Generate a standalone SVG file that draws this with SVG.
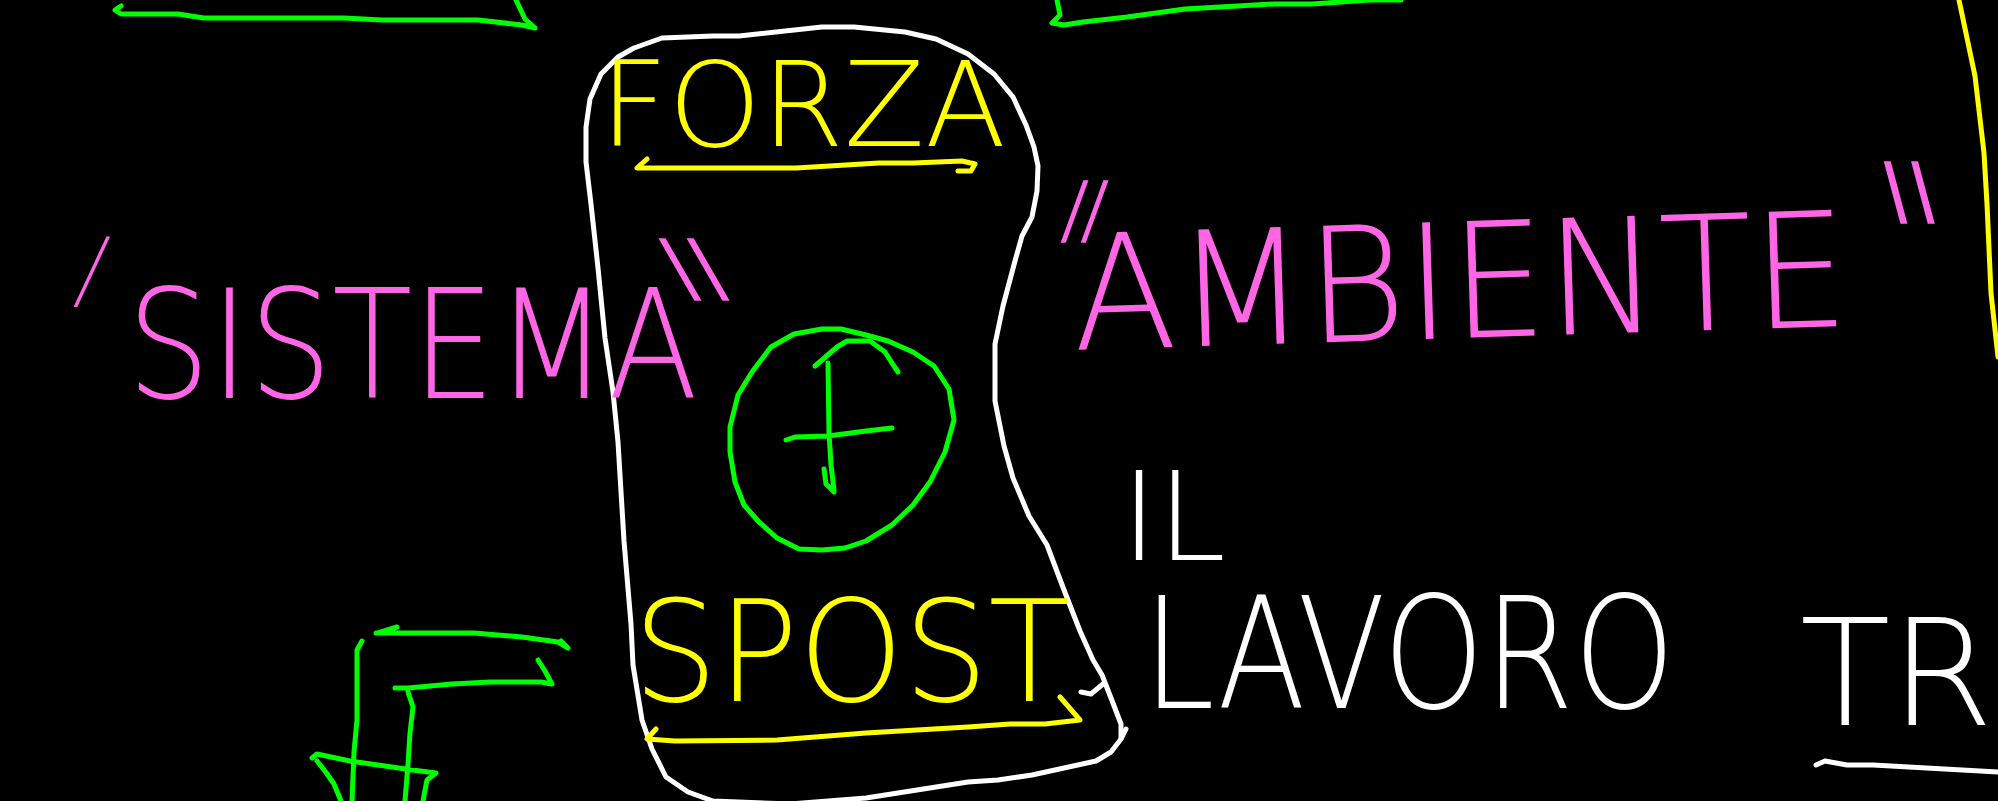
<svg xmlns="http://www.w3.org/2000/svg" width="1998" height="801" viewBox="0 0 1998 801">
<style>
.ln{fill:none;stroke-linecap:round;stroke-linejoin:round;stroke-width:5}
.w{stroke:#ffffff}.y{stroke:#ffff00}.g{stroke:#00ff00}.m{stroke:#ff66e6}
.t{font-family:"DejaVu Sans","Liberation Sans",sans-serif;font-weight:200}
.tw{fill:#ffffff}.ty{fill:#ffff00}.tm{fill:#ff66e6}
</style>
<rect width="1998" height="801" fill="#000000"/>
<g id="connectors">
<path class="ln g" d="M121,6 L115,10 L121,14 L178,14 L204,18 L344,18 L382,20 L478,20 L522,25 L535,28 L525,19 L516,0"/>
<path class="ln g" d="M1057,0 L1060,15 L1052,23 L1064,25 L1083,22 L1127,17 L1185,9 L1274,4 L1312,4 L1370,0 L1401,0"/>
<path class="ln y" d="M1959,0 L1975,76 L1984,153 L1987,204 L1991,293 L1998,357"/>
</g>
<g id="box">
<path class="ln w" d="M634,48 L662,38 L713,36 L739,36 L822,27 L854,27 L905,32 L936,39 L968,54 L994,74 L1013,97 L1026,125 L1034,147 L1038,166 L1037,191 L1032,217 L1022,236 L1015,261 L1003,306 L995,344 L995,401 L1004,446 L1013,478 L1029,516 L1047,545 L1064,590 L1080,631 L1093,660 L1102,675 L1111,698 L1121,724 L1121,739 L1111,752 L1096,761 L1064,768 L1032,775 L998,780 L968,782 L917,790 L866,798 L790,804 L713,801 L688,792 L666,777 L652,749 L642,720 L633,665 L631,624 L624,541 L618,442 L613,392 L605,338 L598,268 L591,204 L586,162 L586,127 L590,99 L601,74 L618,57 Z"/>
<path class="ln w" d="M1081,692 L1091,694 L1103,684 M1126,729 L1121,739"/>
</g>
<g id="forza">
<text class="t ty" x="600" y="146" font-size="118" textLength="406" lengthAdjust="spacingAndGlyphs">FORZA</text>
<path class="ln y" d="M647,159 L637,168 L796,168 L879,163 L913,163 L962,161 L975,164 L971,171 L958,171"/>
</g>
<g id="plus">
<path class="ln g" d="M771,347 L794,334 L822,329 L841,329 L866,335 L888,341 L913,352 L934,366 L949,389 L954,420 L945,452 L930,482 L913,505 L892,525 L866,541 L845,548 L822,550 L799,549 L777,538 L759,522 L744,505 L735,482 L730,452 L730,427 L738,395 L752,372 Z"/>
<path class="ln g" d="M828,363 L829,433 L831,465 L834,490 M824,469 L826,484 L834,492 M815,366 L837,347 L847,341 L870,341 L885,352 L892,363 L898,372 M786,440 L795,437 L828,436 L866,431 L892,428"/>
</g>
<g id="spost">
<text class="t ty" x="633" y="701" font-size="140" textLength="437" lengthAdjust="spacingAndGlyphs">SPOST</text>
<path class="ln y" d="M656,729 L647,739 L675,741 L777,740 L866,733 L968,727 L1010,724 L1045,724 L1080,720 L1060,697"/>
</g>
<g id="sistema">
<text class="t tm" font-size="260" textLength="22" lengthAdjust="spacingAndGlyphs" transform="translate(9,426) skewX(-25)">'</text>
<text class="t tm" x="127" y="398" font-size="152" textLength="571" lengthAdjust="spacingAndGlyphs">SISTEMA</text>
<text class="t tm" font-size="230" textLength="70" lengthAdjust="spacingAndGlyphs" transform="translate(738,406) skewX(30)">"</text>
</g>
<g id="ambiente">
<text class="t tm" font-size="230" textLength="50" lengthAdjust="spacingAndGlyphs" transform="translate(1010,348) skewX(-20)">"</text>
<text class="t tm" x="1074" y="350" font-size="160" textLength="776" lengthAdjust="spacingAndGlyphs" transform="rotate(-1.8 1074 350)">AMBIENTE</text>
<text class="t tm" font-size="230" textLength="68" lengthAdjust="spacingAndGlyphs" transform="translate(1912,329) skewX(15)">"</text>
</g>
<g id="lavoro">
<text class="t tw" x="1121" y="560" font-size="123" textLength="105" lengthAdjust="spacingAndGlyphs">IL</text>
<text class="t tw" x="1143" y="708" font-size="155" textLength="532" lengthAdjust="spacingAndGlyphs">LAVORO</text>
<text class="t tw" x="1800" y="725" font-size="148">TR</text>
<path class="ln w" d="M1816,765 L1825,761 L1847,765 L1873,765 L1998,772"/>
</g>
<g id="f-mark">
<path class="ln g" d="M378,633 L397,627 M376,633 L474,633 L522,637 L558,642 L568,648 L561,641 M362,641 L357,650 L357,720 L354,752 L352,801 M395,688 L408,688 L452,684 L490,682 L541,682 L552,684 L545,671 L538,660 M408,692 L413,707 L410,733 L408,764 L405,801 M312,758 L317,754 L350,761 L420,771 L436,773 L427,780 L423,801 M317,761 L325,771 L334,784 L341,801"/>
</g>
</svg>
